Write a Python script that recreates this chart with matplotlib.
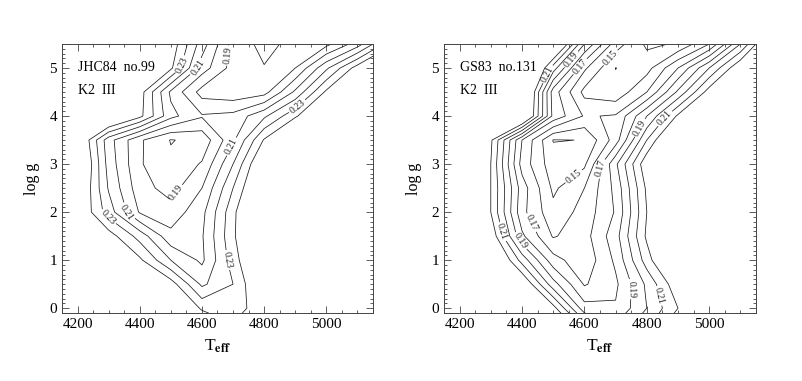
import numpy as np
import matplotlib.pyplot as plt
from matplotlib.ticker import MultipleLocator

plt.rcParams['font.family'] = ['Liberation Serif', 'DejaVu Serif']
plt.rcParams['mathtext.fontset'] = 'stix'

# grid of the maps (Teff columns, log g rows)
teff = [4100, 4200, 4300, 4400, 4500, 4600, 4700, 4800, 4900, 5000, 5100, 5200]
logg = [-0.5, 0.0, 0.5, 1.0, 1.5, 2.0, 2.5, 3.0, 3.5, 4.0, 4.5, 5.0, 5.5]

# JHC84 no.99, K2 III
jhc_map = [
    [0.35, 0.33, 0.315, 0.30, 0.285, 0.26, 0.245, 0.26, 0.29, 0.32, 0.35, 0.38],
    [0.33, 0.31, 0.295, 0.28, 0.262, 0.238, 0.232, 0.25, 0.28, 0.31, 0.34, 0.37],
    [0.31, 0.29, 0.275, 0.26, 0.245, 0.218, 0.23, 0.255, 0.285, 0.315, 0.345, 0.375],
    [0.29, 0.275, 0.26, 0.242, 0.22, 0.208, 0.235, 0.26, 0.29, 0.32, 0.35, 0.38],
    [0.28, 0.262, 0.245, 0.226, 0.203, 0.209, 0.238, 0.265, 0.295, 0.325, 0.355, 0.385],
    [0.275, 0.252, 0.225, 0.199, 0.194, 0.207, 0.237, 0.268, 0.30, 0.33, 0.36, 0.39],
    [0.28, 0.255, 0.219, 0.194, 0.186, 0.20, 0.23, 0.26, 0.295, 0.325, 0.355, 0.385],
    [0.29, 0.26, 0.216, 0.191, 0.182, 0.191, 0.22, 0.255, 0.29, 0.32, 0.35, 0.38],
    [0.30, 0.255, 0.214, 0.1915, 0.1795, 0.183, 0.208, 0.241, 0.27, 0.30, 0.33, 0.36],
    [0.30, 0.28, 0.262, 0.243, 0.213, 0.201, 0.203, 0.218, 0.238, 0.262, 0.29, 0.32],
    [0.31, 0.295, 0.275, 0.245, 0.208, 0.186, 0.183, 0.186, 0.212, 0.242, 0.27, 0.30],
    [0.31, 0.30, 0.29, 0.275, 0.242, 0.205, 0.186, 0.1805, 0.19, 0.218, 0.245, 0.27],
    [0.31, 0.30, 0.29, 0.27, 0.247, 0.215, 0.186, 0.177, 0.183, 0.187, 0.205, 0.235],
]

# GS83 no.131, K2 III
gs_map = [
    [0.32, 0.30, 0.28, 0.262, 0.245, 0.215, 0.195, 0.21, 0.235, 0.26, 0.285, 0.31],
    [0.30, 0.28, 0.262, 0.245, 0.224, 0.184, 0.181, 0.20, 0.22, 0.245, 0.27, 0.295],
    [0.29, 0.27, 0.25, 0.232, 0.194, 0.169, 0.178, 0.202, 0.228, 0.255, 0.28, 0.305],
    [0.285, 0.265, 0.242, 0.206, 0.174, 0.163, 0.182, 0.215, 0.245, 0.275, 0.30, 0.325],
    [0.28, 0.258, 0.228, 0.182, 0.159, 0.166, 0.186, 0.222, 0.25, 0.275, 0.30, 0.325],
    [0.28, 0.255, 0.22, 0.173, 0.153, 0.164, 0.181, 0.22, 0.25, 0.275, 0.30, 0.325],
    [0.285, 0.26, 0.22, 0.175, 0.148, 0.16, 0.183, 0.222, 0.25, 0.275, 0.30, 0.325],
    [0.29, 0.265, 0.22, 0.166, 0.144, 0.148, 0.188, 0.228, 0.26, 0.285, 0.31, 0.335],
    [0.29, 0.265, 0.222, 0.17, 0.1396, 0.1402, 0.165, 0.21, 0.245, 0.275, 0.30, 0.325],
    [0.31, 0.295, 0.275, 0.245, 0.177, 0.159, 0.161, 0.19, 0.222, 0.25, 0.275, 0.30],
    [0.31, 0.30, 0.28, 0.25, 0.175, 0.147, 0.143, 0.16, 0.192, 0.225, 0.255, 0.28],
    [0.31, 0.305, 0.29, 0.26, 0.205, 0.162, 0.1398, 0.146, 0.17, 0.20, 0.23, 0.26],
    [0.31, 0.305, 0.295, 0.27, 0.245, 0.19, 0.155, 0.138, 0.141, 0.16, 0.20, 0.24],
]

# unlabelled and labelled contour levels
jhc_plain = [0.18, 0.20, 0.22, 0.24]
jhc_labels = [0.19, 0.21, 0.23]
gs_plain = [0.14, 0.16, 0.18, 0.20, 0.22]
gs_labels = [0.15, 0.17, 0.19, 0.21]

# where the contour labels sit (Teff, log g)
jhc_label_spots = [(4536, 5.06), (4290, 1.85), (4905, 4.21), (4680, 1.0),
                   (4590, 5.0), (4346, 1.9), (4690, 3.38),
                   (4700, 5.25), (4505, 2.45)]
gs_label_spots = [(4490, 4.85), (4329, 1.58), (4874, 3.87), (4842, 0.26),
                  (4560, 5.17), (4388, 1.37), (4785, 3.73), (4746, 0.40),
                  (4600, 4.96), (4420, 1.75), (4660, 2.9),
                  (4692, 5.17), (4564, 2.76)]


def panel(ax, z, plain, labelled, spots, name):
    z = np.array(z)
    ax.contour(teff, logg, z, levels=plain, colors='#1a1a1a', linewidths=0.55)
    cs = ax.contour(teff, logg, z, levels=labelled, colors='#1a1a1a',
                    linewidths=0.55)
    ax.clabel(cs, fmt='%.2f', fontsize=7, inline=True, inline_spacing=1,
              manual=spots)
    ax.set_xlim(4150, 5150)
    ax.set_ylim(-0.1, 5.5)
    ax.xaxis.set_major_locator(MultipleLocator(200))
    ax.xaxis.set_minor_locator(MultipleLocator(50))
    ax.yaxis.set_major_locator(MultipleLocator(1))
    ax.yaxis.set_minor_locator(MultipleLocator(0.1))
    ax.tick_params(which='both', direction='in', top=True, right=True,
                   labelsize=11, width=0.6, color='#444444')
    ax.tick_params(which='major', length=5)
    ax.tick_params(which='minor', length=2.5)
    for s in ax.spines.values():
        s.set_linewidth(0.7)
        s.set_color('#444444')
    ax.set_xlabel(r'T$_{\mathbf{eff}}$', fontsize=12.5, labelpad=5)
    ax.set_ylabel('log g', fontsize=11.5, labelpad=7)
    ax.text(0.05, 0.9, name, transform=ax.transAxes, fontsize=10)
    ax.text(0.05, 0.815, 'K2  III', transform=ax.transAxes, fontsize=10)


fig = plt.figure(figsize=(8.03, 3.81), dpi=100)
ax1 = fig.add_axes([0.0772, 0.1785, 0.3873, 0.706])
ax2 = fig.add_axes([0.5529, 0.1785, 0.3886, 0.706])

panel(ax1, jhc_map, jhc_plain, jhc_labels, jhc_label_spots, 'JHC84  no.99')
panel(ax2, gs_map, gs_plain, gs_labels, gs_label_spots, 'GS83  no.131')

fig.savefig('out.png', dpi=100)
